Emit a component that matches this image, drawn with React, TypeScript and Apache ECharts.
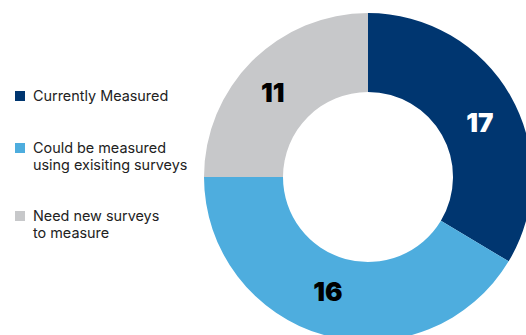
import React, { useEffect, useRef } from "react";
import * as echarts from "echarts";

const categories = [
  "Currently Measured",
  "Could be measured\nusing exisiting surveys",
  "Need new surveys\nto measure",
];
const counts = [17, 16, 11];
// arc shares as drawn in the picture (percent of the ring)
const arcShares = [33.6, 41.4, 25];
const colors = ["#003670", "#4EADDE", "#C7C8CA"];
const labelColors = ["#FFFFFF", "#000000", "#000000"];
const labelOffsets = [[1, 8], [-6, -8], [-5, 6]];
const legendY = [96, 148, 216];

export default function App() {
  const ref = useRef<HTMLDivElement>(null);
  useEffect(() => {
    if (!ref.current) return;
    const chart = echarts.init(ref.current, null, { renderer: "svg" });
    const graphics: any[] = [];
    categories.forEach((c, i) => {
      graphics.push({
        type: "rect",
        left: 15,
        top: legendY[i] - 5,
        shape: { width: 10, height: 10 },
        style: { fill: colors[i] },
      });
      graphics.push({
        type: "text",
        left: 33,
        top: legendY[i] - 9,
        style: {
          text: c,
          fill: "#222222",
          font: "14.4px 'Inter', 'Roboto', sans-serif",
          lineHeight: 17,
        },
      });
    });
    chart.setOption({
      animation: false,
      graphic: graphics,
      series: [
        {
          type: "pie",
          center: [368, 177],
          radius: [85, 164],
          startAngle: 90,
          clockwise: true,
          silent: true,
          label: {
            show: true,
            position: "inside",
            fontFamily: "Inter, Roboto, sans-serif",
            fontWeight: 900,
            fontSize: 26,
            formatter: (p: any) => String(counts[p.dataIndex]),
          },
          labelLine: { show: false },
          data: categories.map((c, i) => ({
            name: c,
            value: arcShares[i],
            itemStyle: { color: colors[i] },
            label: { color: labelColors[i], offset: labelOffsets[i] },
          })),
        },
      ],
    });
    return () => chart.dispose();
  }, []);
  return (
    <div
      ref={ref}
      style={{ position: "fixed", left: 0, top: 0, width: 526, height: 335, background: "#fff" }}
    />
  );
}
